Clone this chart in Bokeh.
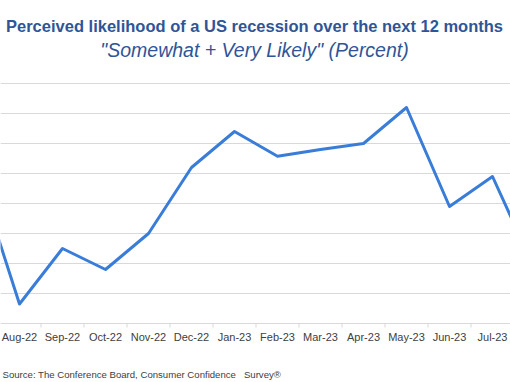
from bokeh.plotting import figure
from bokeh.models import Range1d, FixedTicker, Label
from bokeh.core.properties import value
from bokeh.embed import file_html
from bokeh.resources import INLINE

# ---- data ----
months = ["Jul-22", "Aug-22", "Sep-22", "Oct-22", "Nov-22", "Dec-22", "Jan-23", "Feb-23",
          "Mar-23", "Apr-23", "May-23", "Jun-23", "Jul-23", "Aug-23"]
likelihood = [70.2, 61.3, 65.0, 63.6, 66.0, 70.4, 72.8, 71.15, 71.6, 72.0, 74.4, 67.8, 69.8, 63.5]
y_ticks = [60, 62, 64, 66, 68, 70, 72, 74, 76]

title_text = "Perceived likelihood of a US recession over the next 12 months"
subtitle_text = "\"Somewhat + Very Likely\" (Percent)"
source_text = "Source: The Conference Board, Consumer Confidence \u00a0 Survey\u00ae"

W, H = 510, 380
x = list(range(len(months)))
px_per_month = 43.0
px_per_unit = 15.0
x_start = 1 - 19 / px_per_month
x_end = x_start + W / px_per_month
y_start = y_ticks[0] - (H - 323) / px_per_unit
y_end = y_start + H / px_per_unit

p = figure(width=W, height=H, output_backend="svg", toolbar_location=None,
           x_range=Range1d(x_start, x_end), y_range=Range1d(y_start, y_end),
           x_axis_location=None, y_axis_location=None,
           min_border_left=0, min_border_right=0, min_border_top=0, min_border_bottom=0)
p.outline_line_color = None
p.background_fill_color = "white"
p.border_fill_color = "white"

p.xgrid.visible = False
p.ygrid.ticker = FixedTicker(ticks=y_ticks)
p.ygrid.grid_line_color = "#D9D9D9"
p.ygrid.grid_line_width = 1

# category boundary ticks on the baseline
bounds = [i + 0.5 for i in x]
base = [y_ticks[0]] * len(bounds)
p.segment(x0=bounds, y0=base, x1=bounds, y1=[b - 4 / px_per_unit for b in base],
          line_color="#D9D9D9", line_width=1)

# month labels under the baseline (only those inside the visible range)
vis = [i for i in x if x_start <= i <= x_end]
p.text(x=vis, y=[y_ticks[0]] * len(vis), text=[months[i] for i in vis], y_offset=13,
       text_align="center", text_baseline="middle",
       text_font=value("Liberation Sans"), text_font_size="11px", text_color="#404040")

p.line(x, likelihood, line_color="#3A7DD8", line_width=3, line_join="round")

p.add_layout(Label(x=254, y=H - 25.5, x_units="screen", y_units="screen", text=title_text,
                   text_align="center", text_baseline="alphabetic",
                   text_font="Liberation Sans", text_font_style="bold",
                   text_font_size="16.5px", text_color="#2F5597"))
p.add_layout(Label(x=254, y=H - 49, x_units="screen", y_units="screen", text=subtitle_text,
                   text_align="center", text_baseline="alphabetic",
                   text_font="Liberation Sans", text_font_style="italic",
                   text_font_size="19.5px", text_color="#2F5597"))
p.add_layout(Label(x=2, y=H - 374, x_units="screen", y_units="screen", text=source_text,
                   text_align="left", text_baseline="alphabetic",
                   text_font="Liberation Sans", text_font_size="9.6px",
                   text_color="#404040"))

open("out.html", "w").write(file_html(p, INLINE))
